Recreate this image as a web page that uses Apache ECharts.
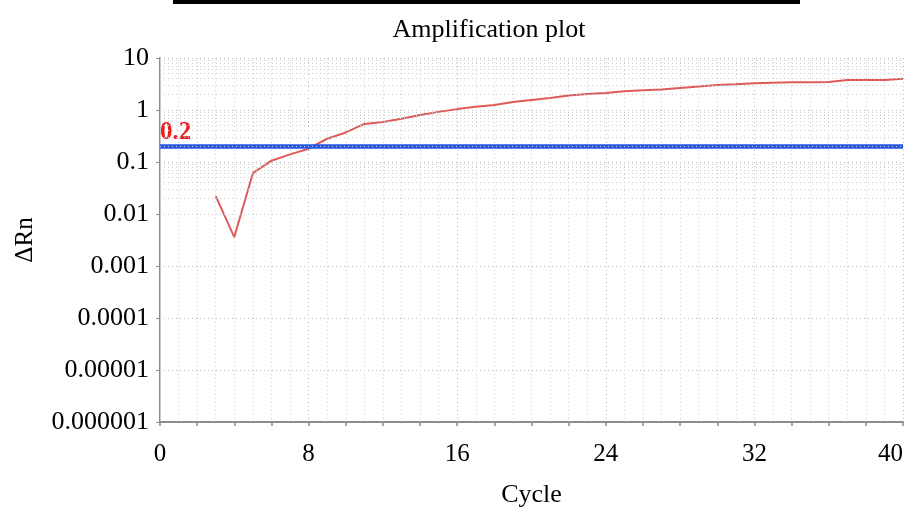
<!DOCTYPE html>
<html>
<head>
<meta charset="utf-8">
<script src="https://cdn.jsdelivr.net/npm/echarts@6/dist/echarts.min.js"></script>
<style>html,body{margin:0;padding:0;background:#fff;}#chart{width:907px;height:507px;}</style>
</head>
<body>
<div id="chart"></div>
<script>
// ---- data ----
const cycles = [3,4,5,6,7,8,9,10,11,12,13,14,15,16,17,18,19,20,21,22,23,24,25,26,27,28,29,30,31,32,33,34,35,36,37,38,39,40];
const deltaRn = [0.022,0.0036,0.061,0.106,0.14,0.18,0.28,0.37,0.54,0.59,0.68,0.80,0.92,1.04,1.15,1.25,1.43,1.56,1.70,1.90,2.03,2.12,2.29,2.39,2.48,2.65,2.83,3.03,3.13,3.26,3.33,3.41,3.41,3.45,3.77,3.77,3.77,4.0];
const threshold = [0.2];
const xTicks = [0, 8, 16, 24, 32, 40];
const yTickLabels = ['0.000001','0.00001','0.0001','0.001','0.01','0.1','1','10'];
const yMinExp = -6, yMaxExp = 1;

// log minor gridline positions (2..9 within each decade)
const minorY = [];
for (let e = yMinExp; e < yMaxExp; e++) {
  for (let k = 2; k <= 9; k++) minorY.push({ yAxis: k * Math.pow(10, e) });
}

const serif = 'Liberation Serif';
const chart = echarts.init(document.getElementById('chart'));
chart.setOption({
  animation: false,
  backgroundColor: '#fff',
  title: {
    text: 'Amplification plot', left: 484, top: 12, textAlign: 'center',
    textStyle: { fontFamily: serif, fontSize: 26, fontWeight: 'normal', color: '#000' }
  },
  graphic: [{ type: 'rect', left: 173, top: 0, shape: { width: 627, height: 4 }, style: { fill: '#000' } }],
  grid: { left: 160, right: 4, top: 58, bottom: 85, containLabel: false, outerBoundsMode: 'none' },
  xAxis: [{
    type: 'value', min: xTicks[0], max: xTicks[xTicks.length - 1], interval: 8,
    name: 'Cycle', nameLocation: 'middle', nameGap: 60,
    nameTextStyle: { fontFamily: serif, fontSize: 26, color: '#000' },
    axisLine: { lineStyle: { color: '#8c8c8c', width: 2 } },
    axisTick: { show: false },
    axisLabel: { fontFamily: serif, fontSize: 25, color: '#000', margin: 20, alignMaxLabel: 'right' },
    splitLine: { show: true, lineStyle: { color: '#bdbdbd', type: [1, 3], width: 1 } },
    minorTick: { show: false, splitNumber: 8 },
    minorSplitLine: { show: true, lineStyle: { color: '#cccccc', type: [1, 3], width: 1 } }
  }, {
    type: 'value', min: 0, max: 40, interval: 2, position: 'bottom',
    axisLine: { show: false },
    axisTick: { show: true, length: 4, lineStyle: { color: '#8c8c8c', width: 1.5 } },
    axisLabel: { show: false }, splitLine: { show: false }
  }],
  yAxis: [{
    type: 'log', logBase: 10, min: Math.pow(10, yMinExp), max: Math.pow(10, yMaxExp), splitNumber: 7,
    name: 'ΔRn', nameLocation: 'middle', nameGap: 122, nameRotate: 90,
    nameTextStyle: { fontFamily: serif, fontSize: 25, color: '#000' },
    axisLine: { show: true, lineStyle: { color: '#8c8c8c', width: 2 } },
    axisTick: { show: true, length: 4, lineStyle: { color: '#8c8c8c' } },
    axisLabel: {
      fontFamily: serif, fontSize: 26, color: '#000', margin: 11,
      formatter: v => yTickLabels[Math.round(Math.log10(v)) - yMinExp]
    },
    splitLine: { show: true, lineStyle: { color: '#bdbdbd', type: [1, 3], width: 1 } }
  }, {
    type: 'log', logBase: 10, min: Math.pow(10, yMinExp), max: Math.pow(10, yMaxExp), position: 'right',
    axisLine: { show: true, lineStyle: { color: '#c8c8c8', width: 1 } },
    axisTick: { show: false }, axisLabel: { show: false }, splitLine: { show: false }
  }],
  series: [{
    type: 'line', data: [], z: 1, silent: true,
    markLine: {
      silent: true, symbol: 'none', label: { show: false },
      lineStyle: { color: '#cccccc', type: [1, 3], width: 1 },
      data: minorY, animation: false
    }
  }, {
    type: 'line', z: 3, showSymbol: false, symbol: 'none', silent: true,
    data: cycles.map((c, i) => [c, deltaRn[i]]),
    lineStyle: { color: '#e05a5a', width: 2 },
    markLine: {
      silent: true, symbol: 'none', z: 4,
      lineStyle: { color: '#2457e6', width: 4.5, type: 'solid' },
      label: {
        show: true, position: 'insideStartTop', formatter: String(threshold[0]),
        fontFamily: serif, fontSize: 25, fontWeight: 'bold', color: '#ee1c1c', distance: [0, 1]
      },
      data: [{ yAxis: threshold[0] }]
    }
  }]
});
</script>
</body>
</html>
